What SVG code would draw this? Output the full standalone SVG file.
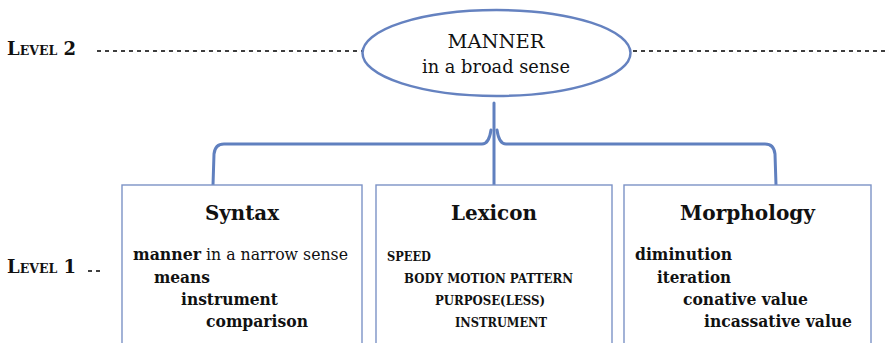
<svg xmlns="http://www.w3.org/2000/svg" width="887" height="343" viewBox="0 0 887 343">
<style>
text{font-family:"DejaVu Serif","Liberation Serif",serif;fill:#111}
.lvl{font-weight:bold}
.dash{stroke:#000;stroke-width:1.5;stroke-dasharray:4 4;fill:none}
.box{fill:#fff;stroke:#7c93c6;stroke-width:1.4}
.conn{fill:none;stroke:#6080bf;stroke-width:3;stroke-linecap:round;stroke-linejoin:round}
.head{font-weight:bold;font-size:21px;text-anchor:middle}
.item{font-weight:bold;font-size:17px}
.sc{font-weight:bold;font-size:13px}
.ell{font-size:19px}
</style>
<rect width="887" height="343" fill="#fff"/>
<g id="level2">
<text class="lvl" x="7" y="55"><tspan font-size="18">L</tspan><tspan font-size="12.5">EVEL</tspan><tspan font-size="18"> 2</tspan></text>
<line class="dash" x1="97" y1="51" x2="362" y2="51"/>
<line class="dash" x1="633" y1="51" x2="887" y2="51"/>
</g>
<g id="level1">
<text class="lvl" x="7" y="273"><tspan font-size="18">L</tspan><tspan font-size="12.5">EVEL</tspan><tspan font-size="18"> 1</tspan></text>
<line class="dash" x1="88" y1="271" x2="102" y2="271"/>
</g>
<g id="manner">
<ellipse cx="496.5" cy="53" rx="134" ry="43" fill="#fff" stroke="#6582c0" stroke-width="2.5"/>
<text class="ell" x="496" y="48" text-anchor="middle" textLength="97" lengthAdjust="spacingAndGlyphs">MANNER</text>
<text class="ell" x="496" y="73" text-anchor="middle" textLength="148" lengthAdjust="spacingAndGlyphs">in a broad sense</text>
</g>
<g id="connectors">
<path class="conn" d="M494,185 L494,103"/>
<path class="conn" d="M213,185 L214,154 Q215,144 224,144 L482,144 Q489,144 491,130"/>
<path class="conn" d="M776,185 L775,154 Q774,144 765,144 L506,144 Q499,144 497,130"/>
</g>
<g id="syntax">
<rect class="box" x="122" y="185" width="240" height="180"/>
<text class="head" x="242" y="220" textLength="74" lengthAdjust="spacingAndGlyphs">Syntax</text>
<text class="item" x="133" y="260" textLength="215" lengthAdjust="spacingAndGlyphs">manner<tspan font-weight="normal"> in a narrow sense</tspan></text>
<text class="item" x="154" y="283" textLength="56" lengthAdjust="spacingAndGlyphs">means</text>
<text class="item" x="181" y="305" textLength="97" lengthAdjust="spacingAndGlyphs">instrument</text>
<text class="item" x="206" y="327" textLength="102" lengthAdjust="spacingAndGlyphs">comparison</text>
</g>
<g id="lexicon">
<rect class="box" x="376" y="185" width="236" height="180"/>
<text class="head" x="494" y="220" textLength="86" lengthAdjust="spacingAndGlyphs">Lexicon</text>
<text class="sc" x="387" y="261" textLength="44" lengthAdjust="spacingAndGlyphs">SPEED</text>
<text class="sc" x="404" y="283" textLength="169" lengthAdjust="spacingAndGlyphs">BODY MOTION PATTERN</text>
<text class="sc" x="435" y="305" textLength="110" lengthAdjust="spacingAndGlyphs">PURPOSE(LESS)</text>
<text class="sc" x="455" y="327" textLength="92" lengthAdjust="spacingAndGlyphs">INSTRUMENT</text>
</g>
<g id="morphology">
<rect class="box" x="624" y="185" width="247" height="180"/>
<text class="head" x="747.5" y="220" textLength="135" lengthAdjust="spacingAndGlyphs">Morphology</text>
<text class="item" x="635" y="260" textLength="97" lengthAdjust="spacingAndGlyphs">diminution</text>
<text class="item" x="657" y="283" textLength="74" lengthAdjust="spacingAndGlyphs">iteration</text>
<text class="item" x="683" y="305" textLength="125" lengthAdjust="spacingAndGlyphs">conative value</text>
<text class="item" x="704" y="327" textLength="148" lengthAdjust="spacingAndGlyphs">incassative value</text>
</g>
</svg>
